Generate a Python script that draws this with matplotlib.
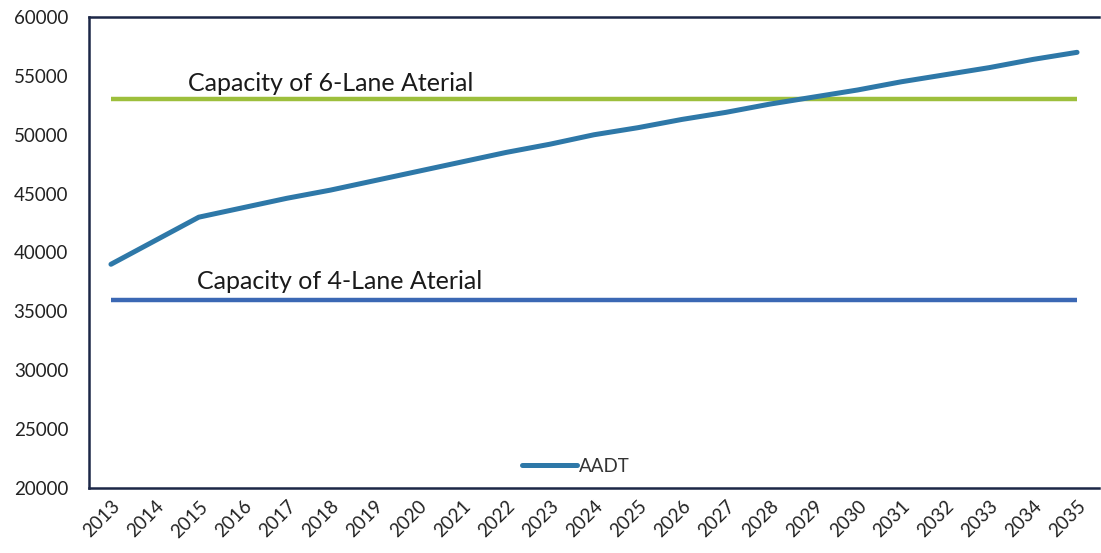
import matplotlib
matplotlib.use("Agg")
import matplotlib.pyplot as plt

years = [str(y) for y in range(2013, 2036)]
aadt = [39000, 41000, 43000, 43800, 44600, 45300, 46100, 46900, 47700, 48500,
        49200, 50000, 50600, 51300, 51900, 52600, 53200, 53800, 54500, 55100,
        55700, 56400, 57000]
cap6 = [53000] * len(years)
cap4 = [36000] * len(years)
cap6_label = "Capacity of 6-Lane Aterial"
cap4_label = "Capacity of 4-Lane Aterial"
yticks = [20000, 25000, 30000, 35000, 40000, 45000, 50000, 55000, 60000]

plt.rcParams['font.family'] = ['Lato', 'DejaVu Sans']

fig = plt.figure(figsize=(11.01, 5.53), dpi=100)
ax = fig.add_axes([89/1101, 1-488/553, (1099-89)/1101, (488-17)/553])

x = list(range(len(years)))
ax.plot(x, cap6, color='#9dbf3c', lw=3.2, solid_capstyle='butt')
ax.plot(x, cap4, color='#3b68b4', lw=3.2, solid_capstyle='butt')
ax.plot(x, aadt, color='#2e78a8', lw=3.6, label='AADT', solid_capstyle='round')

ax.text(1.75, 53700, cap6_label, fontsize=18, color='#1a1a1a', va='baseline', ha='left')
ax.text(1.96, 36900, cap4_label, fontsize=18, color='#1a1a1a', va='baseline', ha='left')

ax.set_xlim(-0.5, len(years) - 0.5)
ax.set_ylim(20000, 60000)
ax.set_yticks(yticks)
ax.set_yticklabels([str(v) for v in yticks], fontsize=13.5, color='#222222')
ax.set_xticks(x)
ax.set_xticklabels(years, rotation=45, ha='right', va='top', fontsize=13.5,
                   color='#222222', rotation_mode='anchor')
ax.tick_params(axis='y', length=0, pad=15)
ax.tick_params(axis='x', length=0, pad=7)

for s in ax.spines.values():
    s.set_color('#1c2747')
    s.set_linewidth(1.8)
ax.spines['right'].set_visible(False)

leg = ax.legend(loc='lower center', bbox_to_anchor=(0.482, 0.0), frameon=False,
                fontsize=13.5, handlelength=2.9, handletextpad=0.1,
                borderaxespad=0.3)
for t in leg.get_texts():
    t.set_color('#333333')

fig.savefig('out.png', dpi=100)
